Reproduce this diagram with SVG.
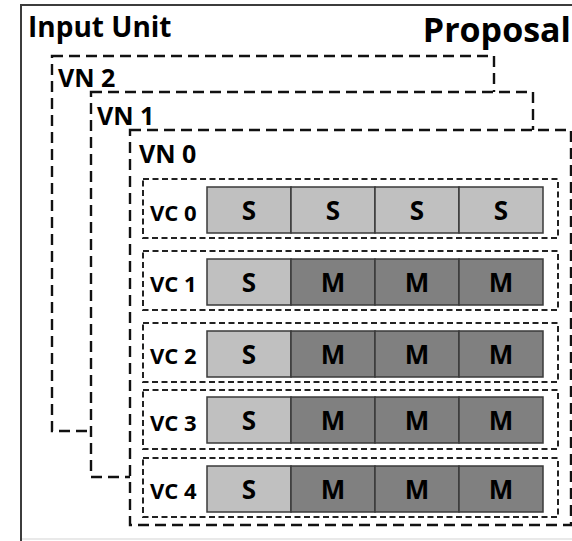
<svg xmlns="http://www.w3.org/2000/svg" width="572" height="541" viewBox="0 0 572 541">
  <style>
    .title { font-family: "Open Sans", "Liberation Sans", sans-serif; font-weight: bold; fill: #000; }
    .vn { fill: #fff; stroke: #111; stroke-width: 2.4; stroke-dasharray: 11 6; }
    .vc { fill: none; stroke: #222; stroke-width: 2; stroke-dasharray: 6 3.5; }
    .vnlabel { font-family: "Open Sans", "Liberation Sans", sans-serif; font-weight: bold; font-size: 25px; fill: #000; }
    .vclabel { font-family: "Open Sans", "Liberation Sans", sans-serif; font-weight: bold; font-size: 22px; fill: #000; }
    .cell-s { fill: #c0c0c0; stroke: #3a3a3a; stroke-width: 1.5; }
    .cell-m { fill: #808080; stroke: #3a3a3a; stroke-width: 1.5; }
    .celltext { font-family: "Open Sans", "Liberation Sans", sans-serif; font-weight: bold; font-size: 26px; fill: #000; text-anchor: middle; }
  </style>
  <rect width="572" height="541" fill="#fff"/>

  <!-- outer unit frame -->
  <g id="input-unit">
    <line x1="21" y1="539" x2="572" y2="539" stroke="#e2e2e2" stroke-width="1.5"/>
    <path d="M21,541 V5 H572" fill="none" stroke="#3c3c3c" stroke-width="2"/>
    <text class="title" x="28" y="37" font-size="28">Input Unit</text>
    <text class="title" x="571" y="42" font-size="34" text-anchor="end">Proposal</text>
  </g>

  <!-- stacked virtual networks, back to front -->
  <g id="vn2">
    <rect class="vn" x="52" y="56" width="442" height="375"/>
    <text class="vnlabel" x="58" y="87">VN 2</text>
  </g>
  <g id="vn1">
    <rect class="vn" x="91" y="92" width="442" height="385"/>
    <text class="vnlabel" x="97" y="125">VN 1</text>
  </g>
  <g id="vn0">
    <rect class="vn" x="130" y="130" width="441" height="395"/>
    <text class="vnlabel" x="139" y="163">VN 0</text>
  </g>

  <!-- virtual channels of VN 0 -->
  <g id="vc0">
    <rect class="vc" x="143" y="179" width="415" height="59"/>
    <text class="vclabel" x="150" y="221">VC 0</text>
    <rect class="cell-s" x="207" y="187" width="84" height="46"/>
    <rect class="cell-s" x="291" y="187" width="84" height="46"/>
    <rect class="cell-s" x="375" y="187" width="84" height="46"/>
    <rect class="cell-s" x="459" y="187" width="84" height="46"/>
    <text class="celltext" x="249" y="220">S</text>
    <text class="celltext" x="333" y="220">S</text>
    <text class="celltext" x="417" y="220">S</text>
    <text class="celltext" x="501" y="220">S</text>
  </g>
  <g id="vc1">
    <rect class="vc" x="143" y="251" width="415" height="59"/>
    <text class="vclabel" x="150" y="292">VC 1</text>
    <rect class="cell-s" x="207" y="259" width="84" height="46"/>
    <rect class="cell-m" x="291" y="259" width="84" height="46"/>
    <rect class="cell-m" x="375" y="259" width="84" height="46"/>
    <rect class="cell-m" x="459" y="259" width="84" height="46"/>
    <text class="celltext" x="249" y="292">S</text>
    <text class="celltext" x="333" y="292">M</text>
    <text class="celltext" x="417" y="292">M</text>
    <text class="celltext" x="501" y="292">M</text>
  </g>
  <g id="vc2">
    <rect class="vc" x="143" y="323" width="415" height="59"/>
    <text class="vclabel" x="150" y="364">VC 2</text>
    <rect class="cell-s" x="207" y="331" width="84" height="46"/>
    <rect class="cell-m" x="291" y="331" width="84" height="46"/>
    <rect class="cell-m" x="375" y="331" width="84" height="46"/>
    <rect class="cell-m" x="459" y="331" width="84" height="46"/>
    <text class="celltext" x="249" y="364">S</text>
    <text class="celltext" x="333" y="364">M</text>
    <text class="celltext" x="417" y="364">M</text>
    <text class="celltext" x="501" y="364">M</text>
  </g>
  <g id="vc3">
    <rect class="vc" x="143" y="390" width="415" height="59"/>
    <text class="vclabel" x="150" y="431">VC 3</text>
    <rect class="cell-s" x="207" y="397" width="84" height="46"/>
    <rect class="cell-m" x="291" y="397" width="84" height="46"/>
    <rect class="cell-m" x="375" y="397" width="84" height="46"/>
    <rect class="cell-m" x="459" y="397" width="84" height="46"/>
    <text class="celltext" x="249" y="430">S</text>
    <text class="celltext" x="333" y="430">M</text>
    <text class="celltext" x="417" y="430">M</text>
    <text class="celltext" x="501" y="430">M</text>
  </g>
  <g id="vc4">
    <rect class="vc" x="143" y="458" width="415" height="59"/>
    <text class="vclabel" x="150" y="499">VC 4</text>
    <rect class="cell-s" x="207" y="466" width="84" height="46"/>
    <rect class="cell-m" x="291" y="466" width="84" height="46"/>
    <rect class="cell-m" x="375" y="466" width="84" height="46"/>
    <rect class="cell-m" x="459" y="466" width="84" height="46"/>
    <text class="celltext" x="249" y="499">S</text>
    <text class="celltext" x="333" y="499">M</text>
    <text class="celltext" x="417" y="499">M</text>
    <text class="celltext" x="501" y="499">M</text>
  </g>

  <g id="connectors"/>
</svg>
